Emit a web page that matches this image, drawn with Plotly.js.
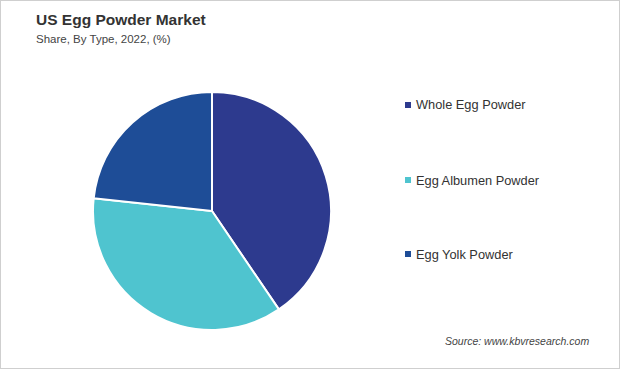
<!DOCTYPE html>
<html>
<head>
<meta charset="utf-8">
<script src="https://cdn.plot.ly/plotly-3.0.1.min.js"></script>
<style>
html,body{margin:0;padding:0;background:#fff;}
#chart{width:620px;height:369px;box-sizing:border-box;border:1px solid #cfcfcf;}
</style>
</head>
<body>
<div id="chart"></div>
<script>
const categories = ["Whole Egg Powder", "Egg Albumen Powder", "Egg Yolk Powder"];
const shares = [40.5, 36.2, 23.3];
const colors = ["#2d3a8e", "#4fc4cf", "#1e4d97"];

const W = 618, H = 367;
const legendY = [104, 179, 253];
const annotations = [
  {text: "<b>US Egg Powder Market</b>", x: 33/W, y: 1 - 18/H, xref: "paper", yref: "paper",
   xanchor: "left", yanchor: "middle", showarrow: false,
   font: {family: "Liberation Sans, Arial, sans-serif", size: 15.5, color: "#333333"}},
  {text: "Share, By Type, 2022, (%)", x: 33/W, y: 1 - 38/H, xref: "paper", yref: "paper",
   xanchor: "left", yanchor: "middle", showarrow: false,
   font: {family: "Liberation Sans, Arial, sans-serif", size: 11.5, color: "#444444"}},
  {text: "<i>Source: www.kbvresearch.com</i>", x: 590/W, y: 1 - 340/H, xref: "paper", yref: "paper",
   xanchor: "right", yanchor: "middle", showarrow: false,
   font: {family: "Liberation Sans, Arial, sans-serif", size: 10.5, color: "#444444"}}
];
const shapes = [];
categories.forEach((c, i) => {
  annotations.push({text: c, x: 413/W, y: 1 - legendY[i]/H, xref: "paper", yref: "paper",
    xanchor: "left", yanchor: "middle", showarrow: false,
    font: {family: "Liberation Sans, Arial, sans-serif", size: 12.8, color: "#333333"}});
  shapes.push({type: "rect", xref: "paper", yref: "paper",
    x0: 404/W, x1: 410/W, y0: 1 - (legendY[i] + 3)/H, y1: 1 - (legendY[i] - 3)/H,
    fillcolor: colors[i], line: {width: 0}});
});

const cx = 211, cy = 210, r = 119;
const data = [{
  type: "pie",
  labels: categories,
  values: shares,
  sort: false,
  direction: "clockwise",
  rotation: 0,
  textinfo: "none",
  hoverinfo: "label+percent",
  marker: {colors: colors, line: {color: "#ffffff", width: 2}},
  domain: {x: [(cx - r)/W, (cx + r)/W], y: [1 - (cy + r)/H, 1 - (cy - r)/H]},
  showlegend: false
}];

const layout = {
  width: W, height: H,
  margin: {l: 0, r: 0, t: 0, b: 0},
  paper_bgcolor: "#ffffff",
  showlegend: false,
  annotations: annotations,
  shapes: shapes
};
Plotly.newPlot("chart", data, layout, {displayModeBar: false, staticPlot: true});
</script>
</body>
</html>
